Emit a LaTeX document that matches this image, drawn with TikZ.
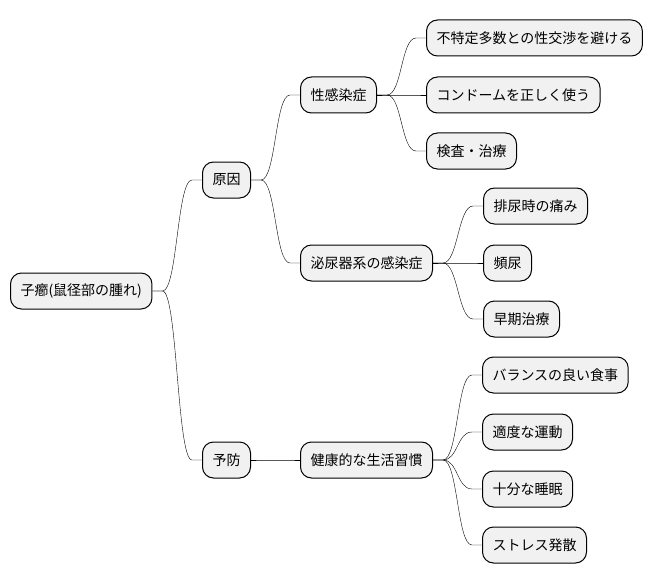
\documentclass[tikz,border=0pt]{standalone}
\usepackage{fontspec}
\newfontfamily\jpfont{Noto Sans CJK JP}
\usetikzlibrary{calc}
\definecolor{boxgray}{HTML}{F1F1F1}

\begin{document}
\begin{tikzpicture}[
    x=1pt, y=-1pt,
    topic/.style={draw, line width=1pt, fill=boxgray, rounded corners=11pt, anchor=west,
        minimum height=36pt, inner xsep=10pt, font=\jpfont\fontsize{14}{16}\selectfont},
    link/.style={line width=0.9pt, to path={-- ++(10,0) .. controls +(15,0) and ($(\tikztotarget)+(-25,0)$) .. ($(\tikztotarget)+(-10,0)$) -- (\tikztotarget)}}
]
\useasboundingbox (0,0) rectangle (653,583);

% Nodes
\node[topic] (root) at (10,291) {子癤(鼠径部の腫れ)};
\node[topic] (cause) at (202,180) {原因};
\node[topic] (prev) at (202,460) {予防};

\node[topic] (sti) at (300,95) {性感染症};
\node[topic] (uti) at (300,263) {泌尿器系の感染症};
\node[topic] (habit) at (300,460) {健康的な生活習慣};

\node[topic] (avoid) at (426,38) {不特定多数との性交渉を避ける};
\node[topic] (condom) at (426,95) {コンドームを正しく使う};
\node[topic] (exam) at (426,151) {検査・治療};

\node[topic] (pain) at (483,206) {排尿時の痛み};
\node[topic] (freq) at (483,263) {頻尿};
\node[topic] (early) at (483,319) {早期治療};

\node[topic] (meal) at (482,375) {バランスの良い食事};
\node[topic] (sport) at (482,432) {適度な運動};
\node[topic] (sleep) at (482,489) {十分な睡眠};
\node[topic] (stress) at (482,545) {ストレス発散};

% Connectors
\draw (root.east) to[link] (cause.west);
\draw (root.east) to[link] (prev.west);
\draw (cause.east) to[link] (sti.west);
\draw (cause.east) to[link] (uti.west);
\draw (prev.east) to[link] (habit.west);
\foreach \n in {avoid, condom, exam}
    \draw (sti.east) to[link] (\n.west);
\foreach \n in {pain, freq, early}
    \draw (uti.east) to[link] (\n.west);
\foreach \n in {meal, sport, sleep, stress}
    \draw (habit.east) to[link] (\n.west);
\end{tikzpicture}
\end{document}
